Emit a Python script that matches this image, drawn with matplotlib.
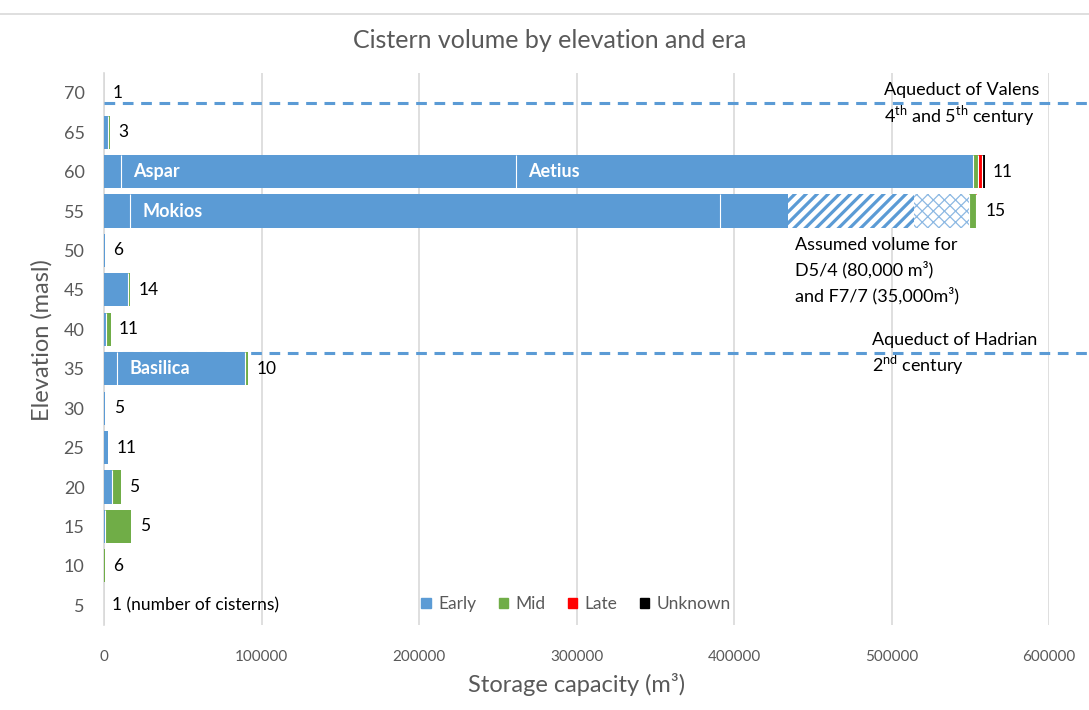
import numpy as np
import matplotlib.pyplot as plt
from matplotlib.patches import Patch
from matplotlib.lines import Line2D

plt.rcParams['font.family'] = ['Lato', 'DejaVu Sans']
plt.rcParams['mathtext.fontset'] = 'custom'
plt.rcParams['mathtext.rm'] = 'Lato'

## Data
elevation = [5, 10, 15, 20, 25, 30, 35, 40, 45, 50, 55, 60, 65, 70]
cisterns = [1, 6, 5, 5, 11, 5, 10, 11, 14, 6, 15, 11, 3, 1]

# smaller early cisterns, lumped per elevation band
early_small = [0, 0, 900, 5000, 2600, 800, 8300, 1200, 15200, 700, 16500, 10800, 2500, 0]
mid = [0, 800, 16500, 5700, 0, 0, 2000, 3000, 1500, 0, 4500, 3000, 1000, 0]
late = [0, 0, 0, 0, 0, 0, 0, 0, 0, 0, 600, 2500, 0, 0]
unknown = [0, 0, 0, 0, 0, 0, 0, 0, 0, 0, 0, 1900, 0, 0]

# the large early cisterns
big_name = ["Basilica", "Mokios", "", "Aspar", "Aetius"]
big_elev = [35, 55, 55, 60, 60]
big_vol = [81300, 374600, 43200, 250800, 290200]

# assumed volumes (no measured data)
assumed_name = ["D5/4", "F7/7"]
assumed_elev = 55
assumed_vol = [80000, 35000]

# aqueduct levels
valens_level = 68.7
hadrian_level = 37.0

## Colours
blue = '#5B9BD5'
green = '#70AD47'
red = '#FF0000'
black = '#000000'
grey = '#595959'

fig = plt.figure(figsize=(10.89, 7.10), dpi=100)
ax = fig.add_axes([104 / 1089, 1 - 625 / 710, 945 / 1089, 552 / 710])

y = np.array(elevation, dtype=float)
h = 4.2
left = np.zeros(len(y))
seams = []  # (x, y) where a new segment starts after another one


def add_seams(lefts, widths, ys):
    for l, w, yy in zip(np.atleast_1d(lefts), np.atleast_1d(widths), np.atleast_1d(ys)):
        if w > 0 and l > 0:
            seams.append((l, yy))


# early - small cisterns first
ax.barh(y, early_small, height=h, left=left, color=blue, linewidth=0, zorder=3)
left += np.array(early_small)

# early - named large cisterns
for name, e, v in zip(big_name, big_elev, big_vol):
    i = elevation.index(e)
    ax.barh(e, v, height=h, left=left[i], color=blue, linewidth=0, zorder=3)
    add_seams(left[i], v, e)
    if name:
        ax.annotate(name, (left[i], e), xytext=(9, 0), textcoords='offset points',
                    va='center', ha='left', color='white', fontsize=13,
                    fontweight='bold', zorder=5)
    left[i] += v

# assumed volumes, hatched
i = elevation.index(assumed_elev)
hatches = ['///', 'xxx']
hcols = [blue, '#8DB9E3']
hlws = [2.3, 0.9]
for v, hp, hc, hlw in zip(assumed_vol, hatches, hcols, hlws):
    with plt.rc_context({'hatch.linewidth': hlw}):
        bars = ax.barh(assumed_elev, v, height=h, left=left[i], color='white',
                       edgecolor=hc, linewidth=0, hatch=hp, zorder=3)
    for b in bars:
        if hasattr(b, 'set_hatch_linewidth'):
            b.set_hatch_linewidth(hlw)
    left[i] += v

# mid, late, unknown
for vals, col in [(mid, green), (late, red), (unknown, black)]:
    ax.barh(y, vals, height=h, left=left, color=col, linewidth=0, zorder=3)
    add_seams(left, vals, y)
    left += np.array(vals)

# thin white seams between segments
for sx, sy in seams:
    ax.plot([sx, sx], [sy - h / 2, sy + h / 2], color='white', lw=0.8, zorder=3.5,
            solid_capstyle='butt')

# number of cisterns at the end of each bar
for k, (yy, n) in enumerate(zip(y, cisterns)):
    txt = str(n) if yy != 5 else f"{n} (number of cisterns)"
    ax.annotate(txt, (left[k], yy), xytext=(6, 0), textcoords='offset points',
                va='center', ha='left', fontsize=12.5, color='black')

# aqueduct lines
for lev in [valens_level, hadrian_level]:
    ax.plot([0, 626000], [lev, lev], color=blue, lw=2.2, dashes=(3.5, 2.5),
            clip_on=False, zorder=4)

ax.text(495000, 70.35, "Aqueduct of Valens", fontsize=13, va='center', ha='left')
ax.text(495000, 67.05, r"4$^{\mathrm{th}}$ and 5$^{\mathrm{th}}$ century", fontsize=13,
        va='center', ha='left')
ax.text(487600, 38.64, "Aqueduct of Hadrian", fontsize=13, va='center', ha='left')
ax.text(487600, 35.47, r"2$^{\mathrm{nd}}$ century", fontsize=13, va='center', ha='left')

ax.text(438700, 50.69, "Assumed volume for", fontsize=13, va='center', ha='left')
ax.text(438700, 47.52, f"{assumed_name[0]} (80,000 m\u00b3)", fontsize=13, va='center', ha='left')
ax.text(438700, 44.22, f"and {assumed_name[1]} (35,000m\u00b3)", fontsize=13, va='center', ha='left')

# axes styling
ax.set_xlim(0, 600000)
ax.set_ylim(2.5, 72.5)
ax.set_xticks(np.arange(0, 600001, 100000))
ax.set_yticks(elevation)
ax.tick_params(axis='x', length=0, pad=18, labelsize=11, labelcolor=grey)
ax.tick_params(axis='y', length=0, pad=14, labelsize=13, labelcolor=grey)
ax.grid(axis='x', color='#D9D9D9', lw=1.2)
ax.set_axisbelow(True)
for s in ['top', 'right', 'bottom']:
    ax.spines[s].set_visible(False)
ax.spines['left'].set_color('#D9D9D9')
ax.spines['left'].set_linewidth(1.2)

# legend
handles = [Patch(color=c) for c in [blue, green, red, black]]
ax.legend(handles, ['Early', 'Mid', 'Late', 'Unknown'], ncol=4, loc='center',
          bbox_to_anchor=(0.4995, 0.038), frameon=False, fontsize=12.5,
          handlelength=0.55, handleheight=0.55, handletextpad=0.4, columnspacing=1.3,
          labelcolor=grey)

# titles
fig.text(0.505, 1 - 40 / 710, "Cistern volume by elevation and era", fontsize=18,
         color=grey, ha='center', va='center')
fig.text(577 / 1089, 1 - 684 / 710, "Storage capacity (m\u00b3)", fontsize=17,
         color=grey, ha='center', va='center')
fig.text(42 / 1089, 1 - 340 / 710, "Elevation (masl)", fontsize=17, color=grey,
         ha='center', va='center', rotation=90)

# chart border at the top
fig.add_artist(Line2D([0, 1], [1 - 14 / 710, 1 - 14 / 710], color='#D9D9D9', lw=1.2))

plt.savefig('out.png', dpi=100)
